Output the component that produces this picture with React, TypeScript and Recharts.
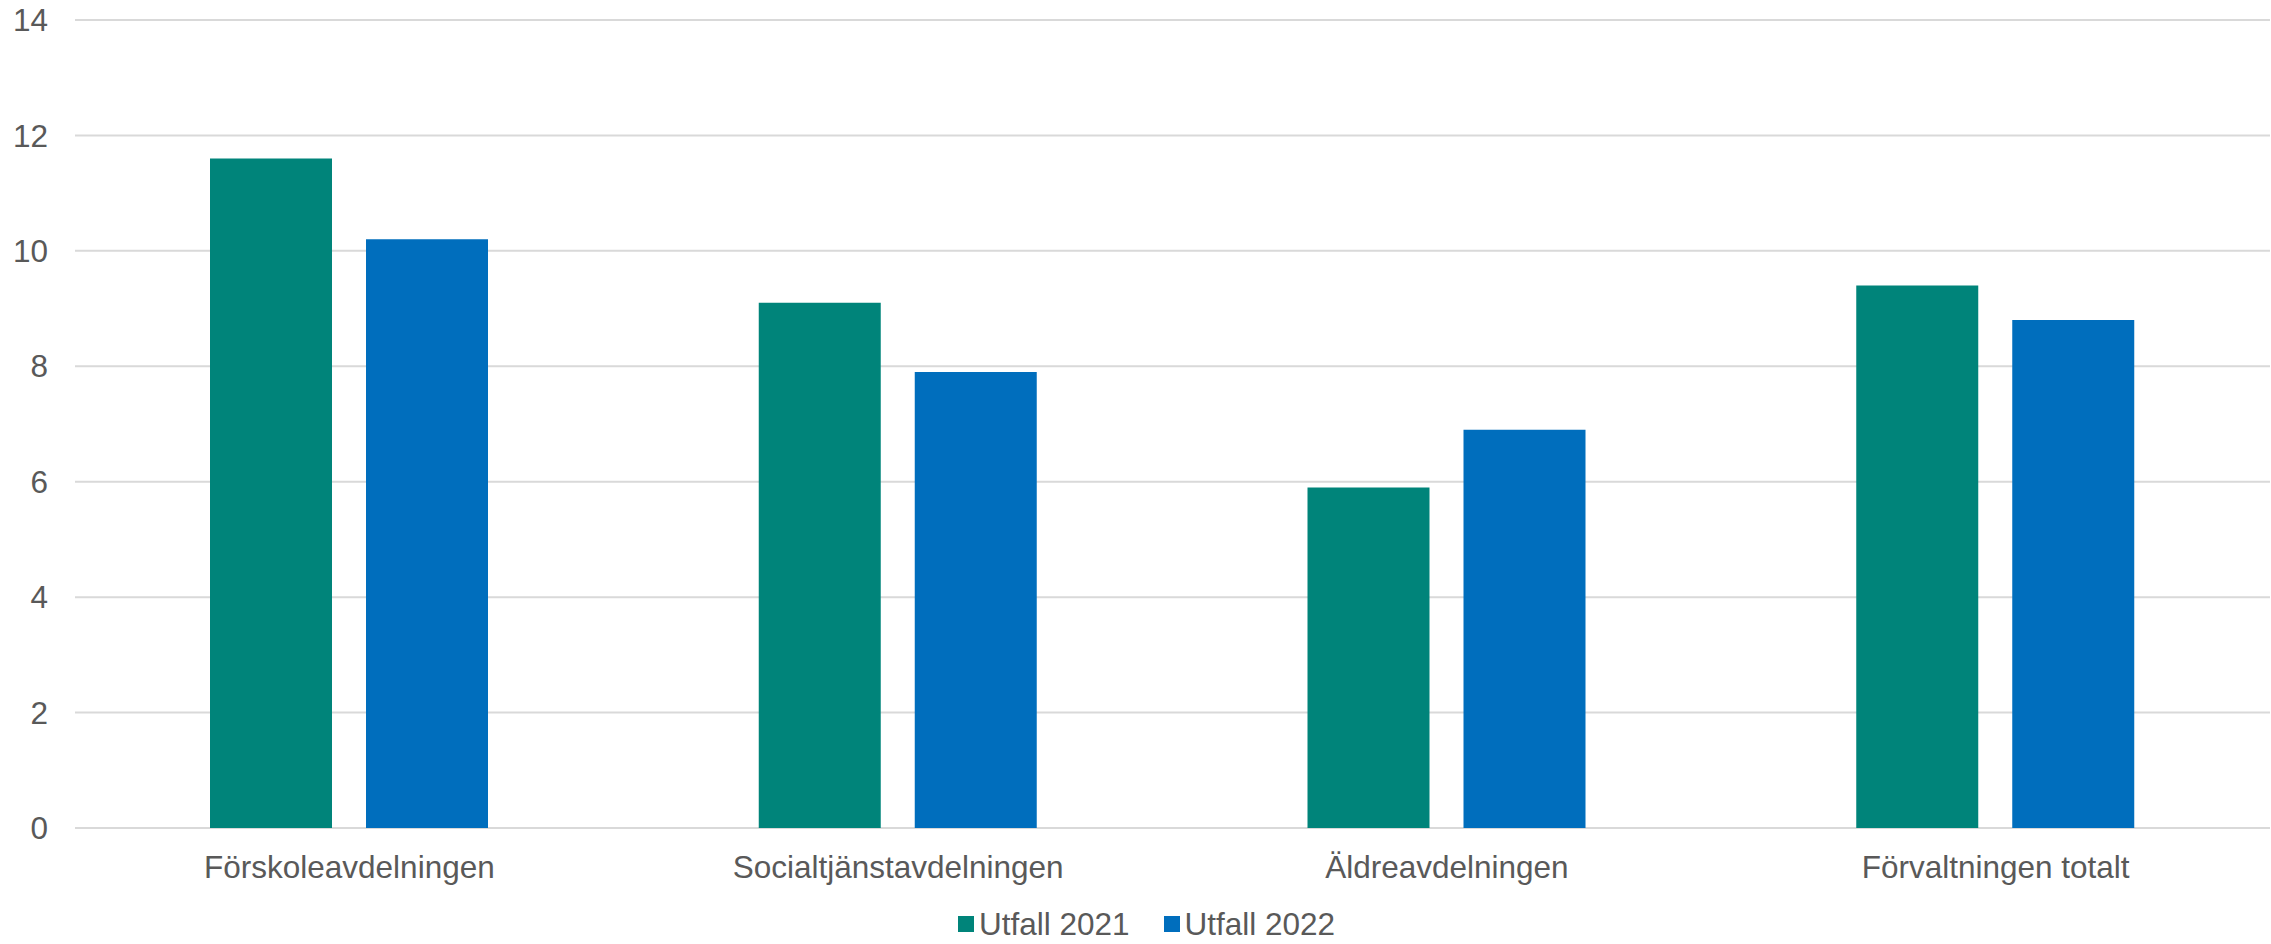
import { Bar, BarChart, CartesianGrid, Legend, XAxis, YAxis } from 'recharts';

const categories = ['Förskoleavdelningen', 'Socialtjänstavdelningen', 'Äldreavdelningen', 'Förvaltningen totalt'];
const utfall2021 = [11.6, 9.1, 5.9, 9.4];
const utfall2022 = [10.2, 7.9, 6.9, 8.8];
const yTicks = [0, 2, 4, 6, 8, 10, 12, 14];

const TEAL = '#00847A';
const BLUE = '#006EBD';
const TEXT = '#595959';
const GRID = '#d9d9d9';
const FONT = '"Liberation Sans", Arial, sans-serif';
const FONT_SIZE = 31.5;

const data = categories.map((name, i) => ({
  name,
  u2021: utfall2021[i],
  u2022: utfall2022[i],
}));

function LegendContent(props: any) {
  const items = props.payload || [];
  return (
    <div
      style={{
        display: 'flex',
        justifyContent: 'center',
        alignItems: 'center',
        height: 40,
        fontFamily: FONT,
        fontSize: FONT_SIZE,
        color: TEXT,
      }}
    >
      {items.map((item: any, i: number) => (
        <div key={item.value} style={{ display: 'flex', alignItems: 'center', marginLeft: i === 0 ? 0 : 34 }}>
          <span style={{ width: 16, height: 16, background: item.color, marginRight: 5, display: 'inline-block' }} />
          <span>{item.value}</span>
        </div>
      ))}
    </div>
  );
}

export default function App() {
  return (
    <div style={{ position: 'absolute', left: 0, top: 0, width: 2271, height: 944, background: '#fff' }}>
      <BarChart
        width={2271}
        height={944}
        data={data}
        margin={{ top: 20, right: 1, left: 0, bottom: 0 }}
        barSize={122}
        barGap={34}
      >
        <CartesianGrid vertical={false} stroke={GRID} strokeWidth={2} />
        <XAxis
          dataKey="name"
          interval={0}
          axisLine={false}
          tickLine={false}
          tickSize={0}
          tickMargin={28}
          height={76}
          tick={{ fontSize: FONT_SIZE, fill: TEXT, fontFamily: FONT }}
        />
        <YAxis
          domain={[0, 14]}
          ticks={yTicks}
          axisLine={false}
          tickLine={false}
          tickSize={0}
          tickMargin={27}
          width={75}
          tick={{ fontSize: FONT_SIZE, fill: TEXT, fontFamily: FONT }}
        />
        <Legend
          verticalAlign="bottom"
          content={<LegendContent />}
          wrapperStyle={{ position: 'absolute', top: 904, bottom: 'auto', left: 11, width: 2271, height: 40 }}
        />
        <Bar dataKey="u2021" name="Utfall 2021" fill={TEAL} isAnimationActive={false} />
        <Bar dataKey="u2022" name="Utfall 2022" fill={BLUE} isAnimationActive={false} />
      </BarChart>
    </div>
  );
}
